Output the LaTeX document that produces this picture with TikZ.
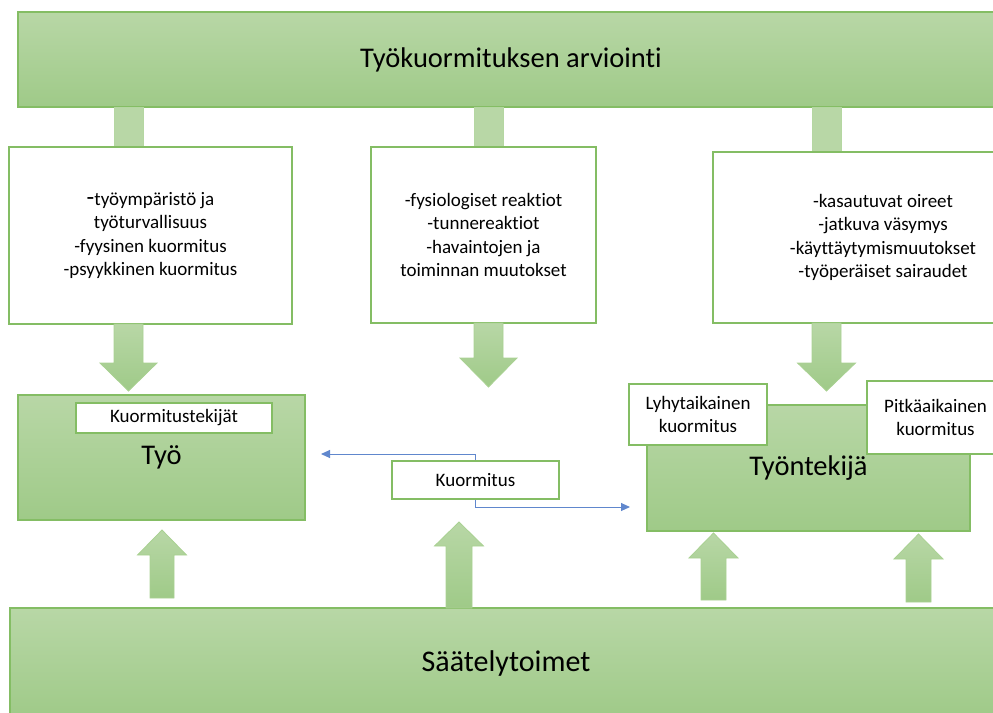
\documentclass[tikz,border=0pt]{standalone}
\usepackage{fontspec}
\setmainfont{Carlito}[Ligatures=NoCommon]
\usetikzlibrary{positioning,arrows.meta}
\definecolor{GrTop}{HTML}{B8D7A6}
\definecolor{GrBot}{HTML}{9FCA88}
\definecolor{GrLine}{HTML}{84BD64}
\definecolor{FlowC}{HTML}{4472C4}
\newcommand{\smalltxt}{\fontsize{19}{23.5}\selectfont}
\newcommand{\bigtxt}{\fontsize{28.5}{34}\selectfont}

\begin{document}
\begin{tikzpicture}[x=1pt,y=-1pt,
  greenbox/.style={rectangle,draw=GrLine,line width=1.3pt,top color=GrTop,bottom color=GrBot,
    inner sep=0pt,align=center,font=\bigtxt},
  whitebox/.style={rectangle,draw=GrLine,line width=1.3pt,fill=white,
    inner sep=0pt,align=center,font=\smalltxt},
  stemfill/.style={draw=GrLine!60,line width=.8pt,fill=GrTop},
  blockarr/.style={draw=GrLine!70,line width=.8pt,top color=GrTop,bottom color=GrBot},
  flow/.style={draw=FlowC!85,line width=1pt,-{Triangle[length=9pt,width=8pt]}}]

\useasboundingbox (0,0) rectangle (993,712);

% ---------- assessment banner and its stems ----------
\node[greenbox,minimum width=986pt,minimum height=95pt] (arvio) at (511,59.5)
  {Työkuormituksen arviointi};
\foreach \xa/\xb/\yb in {114/143/147, 474/503/147, 812/841/153}{
  \path[stemfill] (\xa,107) rectangle (\xb,\yb);}

% ---------- observation boxes ----------
\node[whitebox,minimum width=283pt,minimum height=177pt] (tekijat) at (150.5,235.5)
  {{\fontsize{25}{23.5}\selectfont -}työympäristö ja\\työturvallisuus\\-fyysinen kuormitus\\-psyykkinen kuormitus};
\node[whitebox,minimum width=225pt,minimum height=176pt] (reakt) at (483.5,235)
  {-fysiologiset reaktiot\\-tunnereaktiot\\-havaintojen ja\\toiminnan muutokset};
\node[whitebox,minimum width=340pt,minimum height=171pt] (oireet) at (883,237.5)
  {-kasautuvat oireet\\-jatkuva väsymys\\-käyttäytymismuutokset\\-työperäiset sairaudet};

% ---------- block arrows down ----------
\foreach \cx/\ya/\yb/\yc/\sw/\hw in {128.5/324/363/391/14.5/28.5,
    488.5/323/358/387/14.5/28.5, 826.5/323/363/391/14.5/29}{
  \path[blockarr] ({\cx-\sw},\ya) -- ({\cx-\sw},\yb) -- ({\cx-\hw},\yb) -- (\cx,\yc)
    -- ({\cx+\hw},\yb) -- ({\cx+\sw},\yb) -- ({\cx+\sw},\ya) -- cycle;}

% ---------- work and worker ----------
\node[greenbox,minimum width=287pt,minimum height=125pt] (tyo) at (161.5,457.5) {Työ};
\node[whitebox,minimum width=196pt,minimum height=30pt] (kuortek) at (174,418) {Kuormitustekijät};
\node[greenbox,minimum width=323pt,minimum height=126pt] (tyontek) at (808.5,468) {Työntekijä};
\node[whitebox,minimum width=138pt,minimum height=61pt] (lyhyt) at (698,414.5)
  {Lyhytaikainen\\kuormitus};
\node[whitebox,minimum width=137pt,minimum height=73pt] (pitka) at (935.5,417.5)
  {Pitkäaikainen\\kuormitus};

% ---------- load in the middle ----------
\node[whitebox,minimum width=167pt,minimum height=38pt] (kuorm) at (475.5,480) {Kuormitus};
\coordinate (tyoend) at (321,454);
\coordinate (tekend) at (630,507);
\draw[flow] (kuorm.north) |- (tyoend);
\draw[flow] (kuorm.south) |- (tekend);

% ---------- regulation banner and block arrows up ----------
\node[greenbox,minimum width=992pt,minimum height=110pt,font=\fontsize{30}{36}\selectfont] (saat) at (506,663)
  {Säätelytoimet};
\foreach \cx/\ya/\yb/\yc/\sw/\hw in {162/598/555/530/12/24.5, 459/608/546/522/13/24.5,
    713.5/600/558/533/12.5/24.5, 918.5/602/559/534/12.5/24.5}{
  \path[blockarr] ({\cx-\sw},\ya) -- ({\cx-\sw},\yb) -- ({\cx-\hw},\yb) -- (\cx,\yc)
    -- ({\cx+\hw},\yb) -- ({\cx+\sw},\yb) -- ({\cx+\sw},\ya) -- cycle;}
\end{tikzpicture}
\end{document}
